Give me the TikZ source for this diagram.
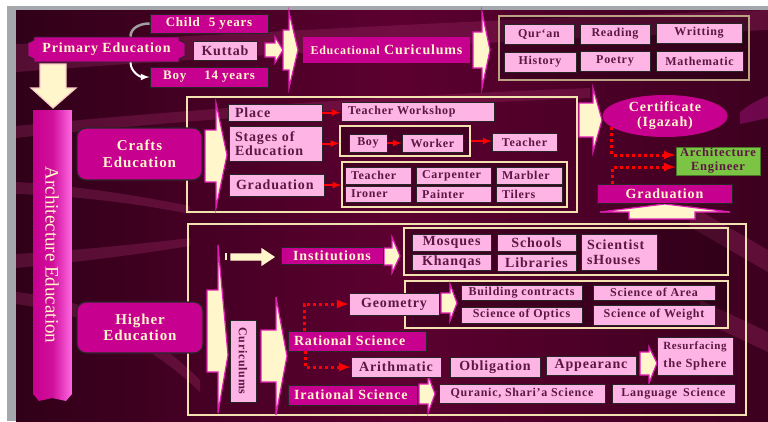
\documentclass[tikz,border=0pt]{standalone}
\usepackage{fontspec}
\setmainfont{Liberation Serif}[LetterSpace=6]
\newfontfamily\barfont{Liberation Serif}
\usetikzlibrary{arrows}
\usetikzlibrary{shapes.geometric}
\definecolor{slidebg}{HTML}{5C0030}
\definecolor{slidedark}{HTML}{300018}
\definecolor{slideband}{HTML}{9A2A64}
\definecolor{slidegray}{HTML}{A4A8AC}
\definecolor{slidemag}{HTML}{C8008F}
\definecolor{slidelight}{HTML}{FF6AE4}
\definecolor{slidepink}{HTML}{FFB4E6}
\definecolor{slideink}{HTML}{5A1842}
\definecolor{slidecream}{HTML}{FFF6CC}
\definecolor{slideframe}{HTML}{F2E2B0}
\definecolor{slidetan}{HTML}{BBA282}
\definecolor{slideglow}{HTML}{E01CB4}
\definecolor{slidegreen}{HTML}{7CC444}
\tikzset{
	magbox/.style={rectangle, draw=black!85, line width=0.9pt, fill=slidemag, text=slidecream, inner sep=0pt, font=\fontsize{14}{15}\selectfont\bfseries},
	pinkbox/.style={rectangle, draw=black!85, line width=0.9pt, fill=slidepink, text=slideink, inner sep=0pt, font=\fontsize{12}{13}\selectfont\bfseries},
	pinkbig/.style={pinkbox, font=\fontsize{14}{14.5}\selectfont\bfseries},
	roundbox/.style={magbox, rounded corners=9pt, line width=1.3pt, align=center, font=\fontsize{15}{16.5}\selectfont\bfseries},
	leftbox/.style={align=left, text width=#1},
	framebox/.style={rectangle, draw=slideframe, line width=1.3pt, inner sep=0pt},
	innerframe/.style={framebox, fill=black, fill opacity=0.22},
	bigarrow/.style={fill=slidecream, draw=slideglow, line width=1.2pt},
	redarrow/.style={-latex, red, line width=2pt},
	reddots/.style={-latex, red, line width=3pt, dash pattern=on 3pt off 3pt},
	swoosh/.style={fill=slideband, opacity=0.35}
}
\begin{document}
\begin{tikzpicture}[x=1pt,y=-1pt]
	\useasboundingbox (0,0) rectangle (768,421);
	% page and slide
	\fill[white] (0,0) rectangle (768,421);
	\fill[slidegray] (7,6) rectangle (768,421);
	\shade[left color=slidedark, right color=slidedark!70!slidebg, middle color=slidebg] (16,10) rectangle (768,421);
	
	% background bands
	\fill[swoosh] (16,44) .. controls (150,40) and (400,22) .. (768,10) -- (768,30) .. controls (400,45) and (150,62) .. (16,72) -- cycle;
	\fill[swoosh] (16,126) .. controls (180,110) and (380,96) .. (590,88) -- (590,98) .. controls (380,106) and (180,120) .. (16,138) -- cycle;
	\fill[swoosh] (16,182) .. controls (80,186) and (140,196) .. (190,206) -- (190,214) .. controls (140,204) and (80,196) .. (16,194) -- cycle;
	\fill[swoosh] (16,254) .. controls (80,250) and (140,244) .. (190,238) -- (190,246) .. controls (140,254) and (80,262) .. (16,268) -- cycle;
	\fill[swoosh] (16,292) .. controls (90,300) and (150,330) .. (200,380) -- (200,392) .. controls (150,344) and (90,314) .. (16,304) -- cycle;
	\fill[swoosh] (690,205) -- (768,250) -- (768,272) -- (690,227) -- cycle;
	\fill[swoosh] (700,300) -- (768,332) -- (768,352) -- (700,320) -- cycle;
	\fill[slideglow, opacity=0.3] (740,112) .. controls (750,104) and (758,100) .. (768,96) -- (768,118) .. controls (758,120) and (750,122) .. (740,124) -- cycle;
	
	% frames
	\node[framebox, minimum width=390pt, minimum height=115pt] (craftframe) at (382,154.5) {};
	\node[framebox, minimum width=558pt, minimum height=191pt] (higherframe) at (467,319.5) {};
	\node[innerframe, draw=slidetan, minimum width=250pt, minimum height=64pt] (topframe) at (624,48) {};
	\node[innerframe, minimum width=130pt, minimum height=30pt] (bwframe) at (405,141) {};
	\node[innerframe, minimum width=225pt, minimum height=45pt] (gframe) at (454.5,184.5) {};
	\node[innerframe, minimum width=324pt, minimum height=47pt] (instframe) at (566,251.5) {};
	\node[innerframe, minimum width=323pt, minimum height=47pt] (geoframe) at (566.5,304.5) {};
	
	% block arrows
	\draw[bigarrow, draw=slidecream!80!slideglow] (40,64) -- (66,64) -- (66,88) -- (76,88) -- (53,108) -- (31,88) -- (40,88) -- cycle;
	\draw[bigarrow] (265,43) -- (275,43) -- (275,37) -- (283,50) -- (275,63) -- (275,57) -- (265,57) -- cycle;
	\draw[bigarrow] (283,30) -- (289,30) -- (289,12) -- (298,50) -- (289,88) -- (289,70) -- (283,70) -- cycle;
	\draw[bigarrow] (473,32) -- (482,32) -- (482,12) -- (490,50) -- (482,88) -- (482,68) -- (473,68) -- cycle;
	\draw[bigarrow] (205,130) -- (216,130) -- (216,103) -- (227,155) -- (216,208) -- (216,182) -- (205,182) -- cycle;
	\draw[bigarrow] (579,103) -- (593,103) -- (593,88) -- (602,120) -- (593,152) -- (593,137) -- (579,137) -- cycle;
	\draw[bigarrow] (629,219) -- (629,212) -- (600,212) -- (665,204) -- (730,212) -- (695,212) -- (695,219) -- cycle;
	\draw[bigarrow] (207,290) -- (218,290) -- (218,245) -- (228,355) -- (218,413) -- (218,372) -- (207,372) -- cycle;
	\fill[slidecream] (225,253) rectangle (227,260);
	\draw[bigarrow, draw=slidecream] (231,254) -- (262,254) -- (262,249) -- (274,257) -- (262,265) -- (262,260) -- (231,260) -- cycle;
	\draw[bigarrow] (384,248) -- (392,248) -- (392,237) -- (400,256) -- (392,273) -- (392,265) -- (384,265) -- cycle;
	\draw[bigarrow] (441,293) -- (450,293) -- (450,284) -- (457,303) -- (450,321) -- (450,313) -- (441,313) -- cycle;
	\draw[bigarrow] (261,330) -- (276,330) -- (276,297) -- (287,356) -- (276,415) -- (276,382) -- (261,382) -- cycle;
	\draw[bigarrow] (640,352) -- (649,352) -- (649,347) -- (657,363) -- (649,383) -- (649,375) -- (640,375) -- cycle;
	\draw[bigarrow] (419,384) -- (428,384) -- (428,375) -- (435,394) -- (428,413) -- (428,404) -- (419,404) -- cycle;
	
	% architecture education column
	\shade[left color=slidemag, right color=slidelight, middle color=slidemag!85!slidelight] (33,110) -- (72,110) -- (72,394) -- (66,401) -- (52,398) -- (39,401) -- (33,394) -- cycle;
	\node[rotate=-90, text=slidecream, font=\barfont\fontsize{19}{20}\selectfont] (archtext) at (52,255) {Architecture Education};
	
	% primary education
	\filldraw[fill=slidemag, draw=black!85, line width=0.9pt] (34,37) -- (179,37) -- (179,40) -- (185,43) -- (185,56) -- (179,59) -- (179,62) -- (34,62) -- (34,59) -- (28,56) -- (28,43) -- (34,40) -- cycle;
	\node[magbox, draw=none, fill=none, minimum width=157pt, minimum height=25pt] (prim) at (106.5,49.5) {Primary Education};
	\node[magbox, font=\fontsize{13}{14}\selectfont\bfseries, minimum width=118pt, minimum height=19pt] (child) at (209,23.5) {Child\hspace{9pt}5 years};
	\node[magbox, font=\fontsize{13}{14}\selectfont\bfseries, minimum width=118pt, minimum height=20pt] (boy) at (209,77) {Boy\hspace{18pt}14 years};
	\node[pinkbig, minimum width=64pt, minimum height=19pt] (kuttab) at (225,50.5) {Kuttab};
	\node[magbox, draw=none, minimum width=167pt, minimum height=26pt] (educ) at (386.5,50) {{\fontsize{12}{13}\selectfont Educational} Curiculums};
	\draw[gray!75, line width=2.5pt] ([xshift=24pt]prim.north) to[out=90, in=180] (child.west);
	\draw[-latex, white, line width=2pt] ([xshift=24pt]prim.south) to[out=-90, in=180] (boy.west);
	
	\node[pinkbox, minimum width=70pt, minimum height=20pt] (quran) at (539,34) {Qur`an};
	\node[pinkbox, minimum width=70pt, minimum height=20pt] (reading) at (615,34) {Reading};
	\node[pinkbox, minimum width=86pt, minimum height=20pt] (writting) at (699,33) {Writting};
	\node[pinkbox, minimum width=72pt, minimum height=20pt] (history) at (540,62) {History};
	\node[pinkbox, minimum width=70pt, minimum height=20pt] (poetry) at (615,61) {Poetry};
	\node[pinkbox, minimum width=87pt, minimum height=20pt] (mathem) at (699.5,61) {Mathematic};
	
	% crafts education
	\node[roundbox, minimum width=125pt, minimum height=52pt] (crafts) at (139.5,154) {Crafts\\Education};
	\node[pinkbig, leftbox=80pt, minimum width=94pt, minimum height=17pt] (place) at (275,112.5) {Place};
	\node[pinkbox, leftbox=139pt, minimum width=153pt, minimum height=19pt] (tws) at (417.5,111.5) {Teacher Workshop};
	\node[pinkbig, leftbox=81pt, minimum width=93pt, minimum height=35pt] (stages) at (275.5,143.5) {Stages of\\Education};
	\node[pinkbox, minimum width=38pt, minimum height=18pt] (boyc) at (368,143) {Boy};
	\node[pinkbox, minimum width=61pt, minimum height=18pt] (worker) at (432.5,143) {Worker};
	\node[pinkbox, minimum width=65pt, minimum height=18pt] (teacherc) at (524.5,142) {Teacher};
	\node[pinkbig, leftbox=81pt, minimum width=95pt, minimum height=22pt] (gradc) at (276.5,185) {Graduation};
	\node[pinkbox, leftbox=54pt, minimum width=66pt, minimum height=17pt] (gteacher) at (378,175.5) {Teacher};
	\node[pinkbox, leftbox=54pt, minimum width=66pt, minimum height=16pt] (ironer) at (378,194) {Ironer};
	\node[pinkbox, leftbox=63pt, minimum width=75pt, minimum height=17pt] (carpenter) at (453.5,175.5) {Carpenter};
	\node[pinkbox, leftbox=63pt, minimum width=75pt, minimum height=16pt] (painter) at (453.5,194) {Painter};
	\node[pinkbox, leftbox=54pt, minimum width=66pt, minimum height=17pt] (marbler) at (529,175.5) {Marbler};
	\node[pinkbox, leftbox=54pt, minimum width=66pt, minimum height=16pt] (tilers) at (529,194) {Tilers};
	\draw[redarrow] (place.east) -- (place.east -| tws.west);
	\draw[redarrow] (stages.east) -- (stages.east -| bwframe.west);
	\draw[redarrow] (boyc.east) -- (worker.west);
	\draw[redarrow] (bwframe.east) -- (bwframe.east -| teacherc.west);
	\draw[redarrow] (gradc.east) -- (gradc.east -| gframe.west);
	
	% certificate
	\node[ellipse, fill=slidemag, text=slidecream, inner sep=0pt, minimum width=125pt, minimum height=42pt, align=center, font=\fontsize{14}{15}\selectfont\bfseries] (cert) at (665,116) {Certificate\\(Igazah)};
	\node[rectangle, draw=slidegreen!60!black, line width=0.9pt, fill=slidegreen, text=slideink, inner sep=0pt, minimum width=84pt, minimum height=28pt, align=center, font=\fontsize{12.5}{14}\selectfont\bfseries] (arch) at (718,161) {Architecture\\Engineer};
	\node[magbox, minimum width=135pt, minimum height=19pt] (grad2) at (664.5,193.5) {Graduation};
	\draw[reddots] (cert.192) |- ([yshift=6pt]arch.west);
	\draw[reddots] ([xshift=-52pt]grad2.north) |- ([yshift=-6pt]arch.west);
	
	% higher education
	\node[roundbox, minimum width=126pt, minimum height=51pt] (higher) at (140,327.5) {Higher\\Education};
	\node[magbox, minimum width=102pt, minimum height=17pt] (inst) at (332,255.5) {Institutions};
	\node[pinkbig, minimum width=79pt, minimum height=17pt] (mosques) at (451.5,242.5) {Mosques};
	\node[pinkbig, minimum width=79pt, minimum height=16pt] (khanqas) at (451.5,262) {Khanqas};
	\node[pinkbig, minimum width=79pt, minimum height=17pt] (schools) at (536.5,242.5) {Schools};
	\node[pinkbig, minimum width=79pt, minimum height=17pt] (libraries) at (536.5,262.5) {Libraries};
	\node[pinkbig, leftbox=64pt, minimum width=76pt, minimum height=36pt] (scient) at (619,252) {Scientist\\sHouses};
	
	\node[pinkbox, rotate=-90, minimum width=82pt, minimum height=26pt] (curic) at (243,361) {Curiculums};
	\node[pinkbig, minimum width=90pt, minimum height=22pt] (geo) at (394,304) {Geometry};
	\node[pinkbox, minimum width=121pt, minimum height=15pt] (build) at (521.5,292.5) {Building contracts};
	\node[pinkbox, minimum width=122pt, minimum height=15pt] (area) at (654,292.5) {Science of Area};
	\node[pinkbox, minimum width=121pt, minimum height=16pt] (optics) at (521.5,315) {Science of Optics};
	\node[pinkbox, minimum width=122pt, minimum height=20pt] (weight) at (654,315) {Science of Weight};
	\node[magbox, leftbox=126pt, minimum width=138pt, minimum height=20pt] (rat) at (357,341) {Rational Science};
	\node[pinkbig, minimum width=90pt, minimum height=20pt] (arith) at (396,367) {Arithmatic};
	\node[pinkbig, minimum width=90pt, minimum height=20pt] (oblig) at (495,367) {Obligation};
	\node[pinkbig, minimum width=90pt, minimum height=19pt] (appear) at (591,365.5) {Appearanc};
	\node[pinkbox, align=center, minimum width=76pt, minimum height=38pt, font=\fontsize{12.5}{13}\selectfont\bfseries] (resurf) at (695,356) {{\fontsize{11}{12}\selectfont Resurfacing}\\[5pt]the Sphere};
	\node[magbox, leftbox=117pt, minimum width=129pt, minimum height=20pt] (irat) at (352.5,395) {Irational Science};
	\node[pinkbox, minimum width=166pt, minimum height=19pt] (quranic) at (522,393.5) {Quranic, Shari'a Science};
	\node[pinkbox, minimum width=123pt, minimum height=19pt] (lang) at (673.5,393.5) {Language\hspace{6pt}Science};
	\draw[reddots] ([xshift=-53pt]rat.north) |- (geo.west);
	\draw[reddots] ([xshift=-52pt]rat.south) |- (arith.west);
\end{tikzpicture}
\end{document}
